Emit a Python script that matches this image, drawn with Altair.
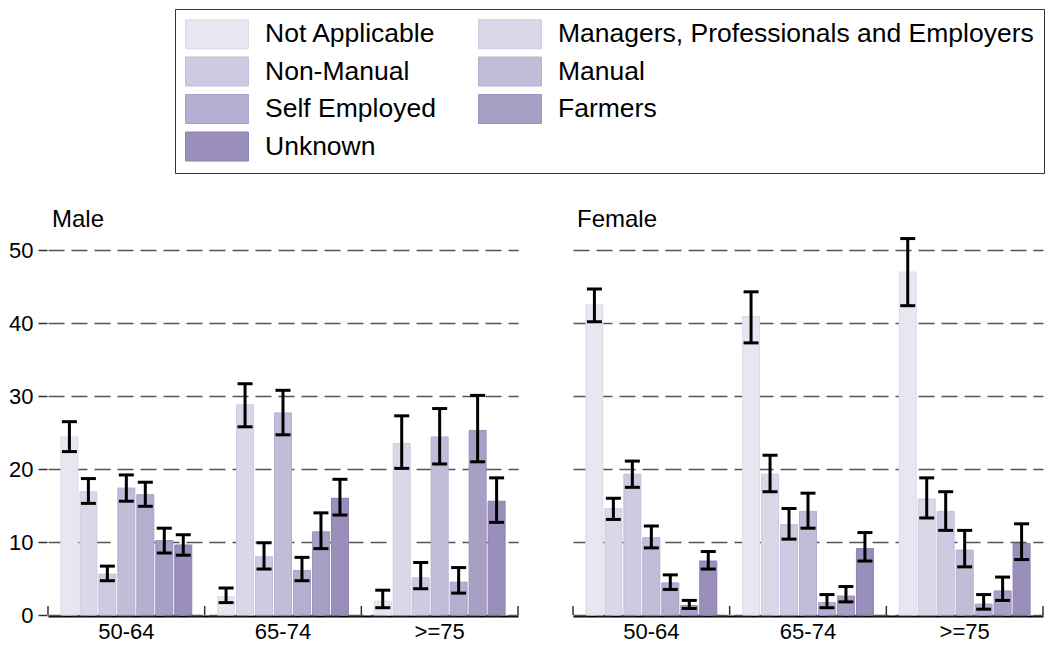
import altair as alt
import pandas as pd

categories = ["Not Applicable", "Managers, Professionals and Employers", "Non-Manual",
              "Manual", "Self Employed", "Farmers", "Unknown"]
ages = ["50-64", "65-74", ">=75"]
sexes = ["Male", "Female"]

fill_colors = ["#e8e6f1", "#dbd7e9", "#cfcae1", "#c2bcd8", "#b5aed0", "#a89fc5", "#9a8fbb"]
stroke_colors = ["#dcd9ea", "#cfcae2", "#c3bdd9", "#b5aed0", "#a9a0c6", "#9b91bc", "#8d81b1"]

# values per age group, in category order
male_values = [[24.4, 16.9, 5.6, 17.4, 16.5, 10.2, 9.6],
               [2.5, 28.8, 8.0, 27.7, 6.1, 11.4, 16.0],
               [1.9, 23.5, 5.1, 24.4, 4.5, 25.3, 15.6]]
male_lower = [[22.4, 15.3, 4.7, 15.6, 14.9, 8.5, 8.2],
              [1.7, 25.8, 6.3, 24.7, 4.7, 9.1, 13.7],
              [1.0, 20.1, 3.6, 20.7, 3.0, 21.0, 12.7]]
male_upper = [[26.5, 18.7, 6.7, 19.2, 18.2, 11.9, 11.0],
              [3.7, 31.7, 9.9, 30.8, 7.9, 14.0, 18.6],
              [3.4, 27.3, 7.2, 28.3, 6.5, 30.1, 18.8]]

female_values = [[42.5, 14.6, 19.3, 10.6, 4.4, 1.3, 7.4],
                 [40.9, 19.3, 12.4, 14.2, 1.7, 2.6, 9.1],
                 [47.0, 15.9, 14.2, 8.9, 1.5, 3.3, 9.8]]
female_lower = [[40.2, 13.1, 17.5, 9.2, 3.5, 0.9, 6.3],
                [37.3, 16.9, 10.4, 11.9, 1.0, 1.8, 7.4],
                [42.4, 13.3, 11.6, 6.6, 0.8, 2.0, 7.6]]
female_upper = [[44.7, 16.0, 21.1, 12.2, 5.5, 2.0, 8.7],
                [44.3, 21.9, 14.6, 16.7, 2.8, 3.9, 11.3],
                [51.6, 18.8, 16.9, 11.6, 2.8, 5.2, 12.5]]

rows = []
for sex, vals, los, his in [("Male", male_values, male_lower, male_upper),
                            ("Female", female_values, female_lower, female_upper)]:
    for ai, age in enumerate(ages):
        for ci, cat in enumerate(categories):
            rows.append({"sex": sex, "age": age, "category": cat,
                         "value": vals[ai][ci], "lo": los[ai][ci], "hi": his[ai][ci]})
df = pd.DataFrame(rows)

H = 383
x_axis = alt.Axis(title=None, labelAngle=0, ticks=False, labelFontSize=22, labelPadding=5,
                  domainColor="black", domainWidth=2, labelColor="black")
x_enc = alt.X("age:N", sort=ages, scale=alt.Scale(paddingInner=0, paddingOuter=0), axis=x_axis)
xoff = alt.XOffset("category:N", sort=categories,
                   scale=alt.Scale(domain=categories, paddingInner=0.105, paddingOuter=0.68))
y_axis = alt.Axis(title=None, values=[0, 10, 20, 30, 40, 50], grid=True, gridDash=[16, 7],
                  gridColor="#555555", gridWidth=1.3, domain=False, tickSize=9,
                  tickColor="#333333", tickWidth=1.5, labelFontSize=22, labelPadding=5,
                  labelColor="black")
y_scale = alt.Scale(domain=[0, 52.5], nice=False)

legend = alt.Legend(title=None, orient="none", legendX=127, legendY=-223, columns=2,
                    direction="horizontal",
                    symbolType="M-1,-1H3.34V1H-1Z", symbolSize=841,
                    labelFontSize=26.5, labelColor="black", strokeColor="#333333",
                    padding=10, rowPadding=3.5, columnPadding=40, labelOffset=50,
                    symbolStrokeWidth=1, symbolOpacity=1, labelLimit=600)

base = alt.Chart()
bars = base.mark_bar(strokeWidth=1).encode(
    x=x_enc, xOffset=xoff,
    y=alt.Y("value:Q", scale=y_scale, axis=y_axis),
    fill=alt.Fill("category:N", sort=categories,
                  scale=alt.Scale(domain=categories, range=fill_colors), legend=legend),
    stroke=alt.Stroke("category:N", sort=categories,
                      scale=alt.Scale(domain=categories, range=stroke_colors), legend=legend),
)
err = base.mark_rule(color="black", strokeWidth=3).encode(
    x=x_enc, xOffset=xoff, y=alt.Y("lo:Q", scale=y_scale, axis=y_axis), y2="hi:Q")
cap_lo = base.mark_tick(color="black", thickness=3, size=15, orient="horizontal", opacity=1).encode(
    x=x_enc, xOffset=xoff, y=alt.Y("lo:Q", scale=y_scale, axis=y_axis))
cap_hi = base.mark_tick(color="black", thickness=3, size=15, orient="horizontal", opacity=1).encode(
    x=x_enc, xOffset=xoff, y=alt.Y("hi:Q", scale=y_scale, axis=y_axis))

x_start = alt.X("age:N", sort=ages, scale=alt.Scale(paddingInner=0, paddingOuter=0),
                axis=x_axis, bandPosition=0)
x_end = alt.X("age:N", sort=ages, scale=alt.Scale(paddingInner=0, paddingOuter=0),
              axis=x_axis, bandPosition=1)
tick_start = base.transform_filter(alt.datum.category == categories[0]).mark_rule(
    color="#333333", strokeWidth=1.5).encode(x=x_start, y=alt.value(H - 9), y2=alt.value(H))
tick_end = base.transform_filter(
    (alt.datum.category == categories[0]) & (alt.datum.age == ages[-1])).mark_rule(
    color="#333333", strokeWidth=1.5).encode(x=x_end, y=alt.value(H - 9), y2=alt.value(H))

panel_title = base.transform_filter(
    (alt.datum.category == categories[0]) & (alt.datum.age == ages[0])).mark_text(
    align="left", baseline="alphabetic", fontSize=24, color="black").encode(
    x=alt.value(4), y=alt.value(-5), text="sex:N")

layered = alt.layer(bars, err, cap_lo, cap_hi, tick_start, tick_end, panel_title,
                    data=df).properties(width=470, height=H)

chart = layered.facet(
    column=alt.Column("sex:N", sort=sexes, header=alt.Header(title=None, labels=False)),
    spacing=53,
).properties(padding=0).configure(font="Liberation Sans").configure_view(stroke=None)

chart.save("out.html", embed_options={"renderer": "svg", "actions": False})
